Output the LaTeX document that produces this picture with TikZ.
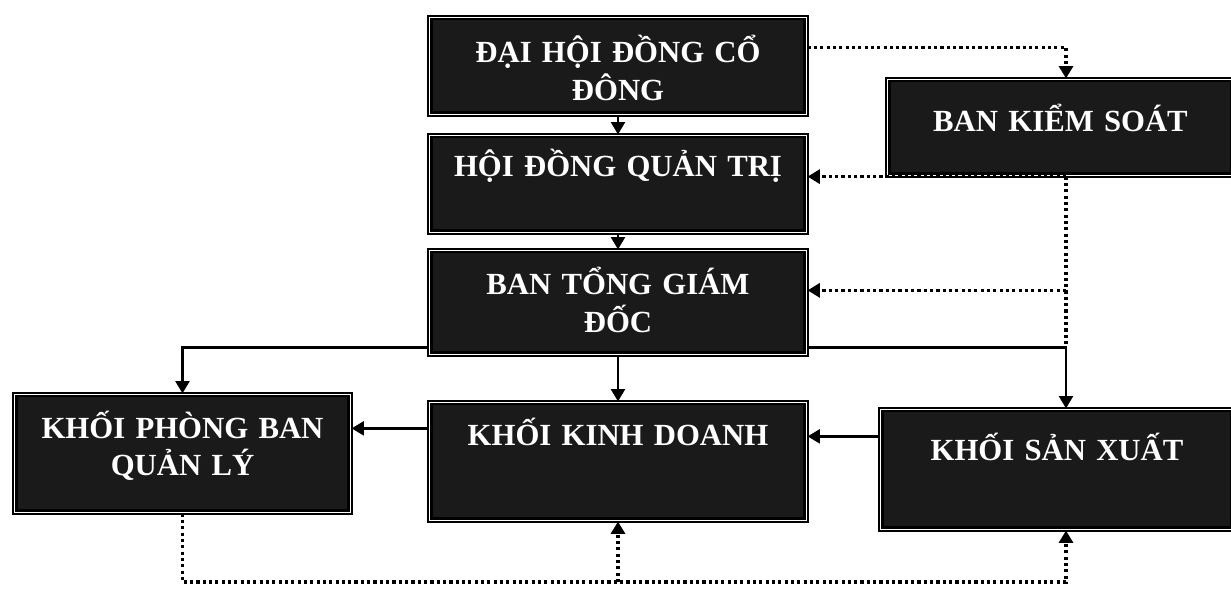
\documentclass[tikz,border=0pt]{standalone}
\usepackage{fontspec}
\setmainfont{Liberation Serif}
\usetikzlibrary{arrows.meta}
\definecolor{boxfill}{HTML}{1A1A1A}

\begin{document}
\begin{tikzpicture}[x=0.02cm, y=-0.02cm,
        >={Triangle[length=7pt,width=8pt]},
        box/.style={draw=black, line width=1.3pt, double=white, double distance=0.8pt,
            fill=boxfill, text=white, inner sep=0pt, align=center,
            font=\bfseries\fontsize{17.5}{21.5}\selectfont},
        link/.style={line width=1.3pt},
        dots/.style={line width=1.8pt, dash pattern=on 1.8pt off 1.8pt}]
        \useasboundingbox (0,0) rectangle (1231,597);

        \node[box, text width=7.54cm, text height=0.91cm, text depth=1.03cm] (DHCD) at (618,66) {ĐẠI HỘI ĐỒNG CỔ\\ĐÔNG};
        \node[box, text width=7.54cm, text height=0.83cm, text depth=1.11cm] (HDQT) at (618,184) {HỘI ĐỒNG QUẢN TRỊ};
        \node[box, text width=7.54cm, text height=0.89cm, text depth=1.19cm] (BTGD) at (618,302.5) {BAN TỔNG GIÁM\\ĐỐC};
        \node[box, text width=7.54cm, text height=0.85cm, text depth=1.51cm] (KKD) at (618,461.5) {KHỐI KINH DOANH};
        \node[box, text width=6.72cm, text height=0.87cm, text depth=1.49cm] (KPB) at (182.5,453.5) {KHỐI PHÒNG BAN\\QUẢN LÝ};
        \node[box, text width=7.06cm, text height=1.01cm, text depth=1.39cm] (KSX) at (1057,469.5) {KHỐI SẢN XUẤT};
        \node[box, text width=6.92cm, text height=1.05cm, text depth=0.87cm] (BKS) at (1060.5,127.5) {BAN KIỂM SOÁT};

        \coordinate (R) at (1066,346);
        \coordinate (B) at (618,582);
        \coordinate (T) at ([yshift=-0.82cm]BTGD.north east);

        % chain of command
        \path [->, link] (DHCD) edge (HDQT);
        \path [->, link] (HDQT) edge (BTGD);
        \path [->, link] (BTGD) edge (KKD);

        \draw [->, link] ([yshift=0.16cm]BTGD.south west) -| (KPB);
        \draw [->, link] ([yshift=0.16cm]BTGD.south east) -| (KSX.north -| R);

        \draw [->, link] ([yshift=-0.54cm]KKD.north west) coordinate (a) -- (KPB.east |- a);
        \draw [->, link] ([yshift=-0.56cm]KSX.north west) coordinate (b) -- (KKD.east |- b);

        % supervision
        \draw [->, dots] ([yshift=-0.62cm]DHCD.north east) -| (BKS.north -| R);
        \draw [dots] (BKS.south -| R) -- (R);
        \draw [->, dots] (BKS.south -| R) -- (BKS.south -| HDQT.east);
        \draw [->, dots] (R |- T) -- (T);

        \draw [->, dots] (KPB.south) |- (B -| R) -- (KSX.south -| R);
        \draw [->, dots] (B) -- (KKD.south);
\end{tikzpicture}
\end{document}
